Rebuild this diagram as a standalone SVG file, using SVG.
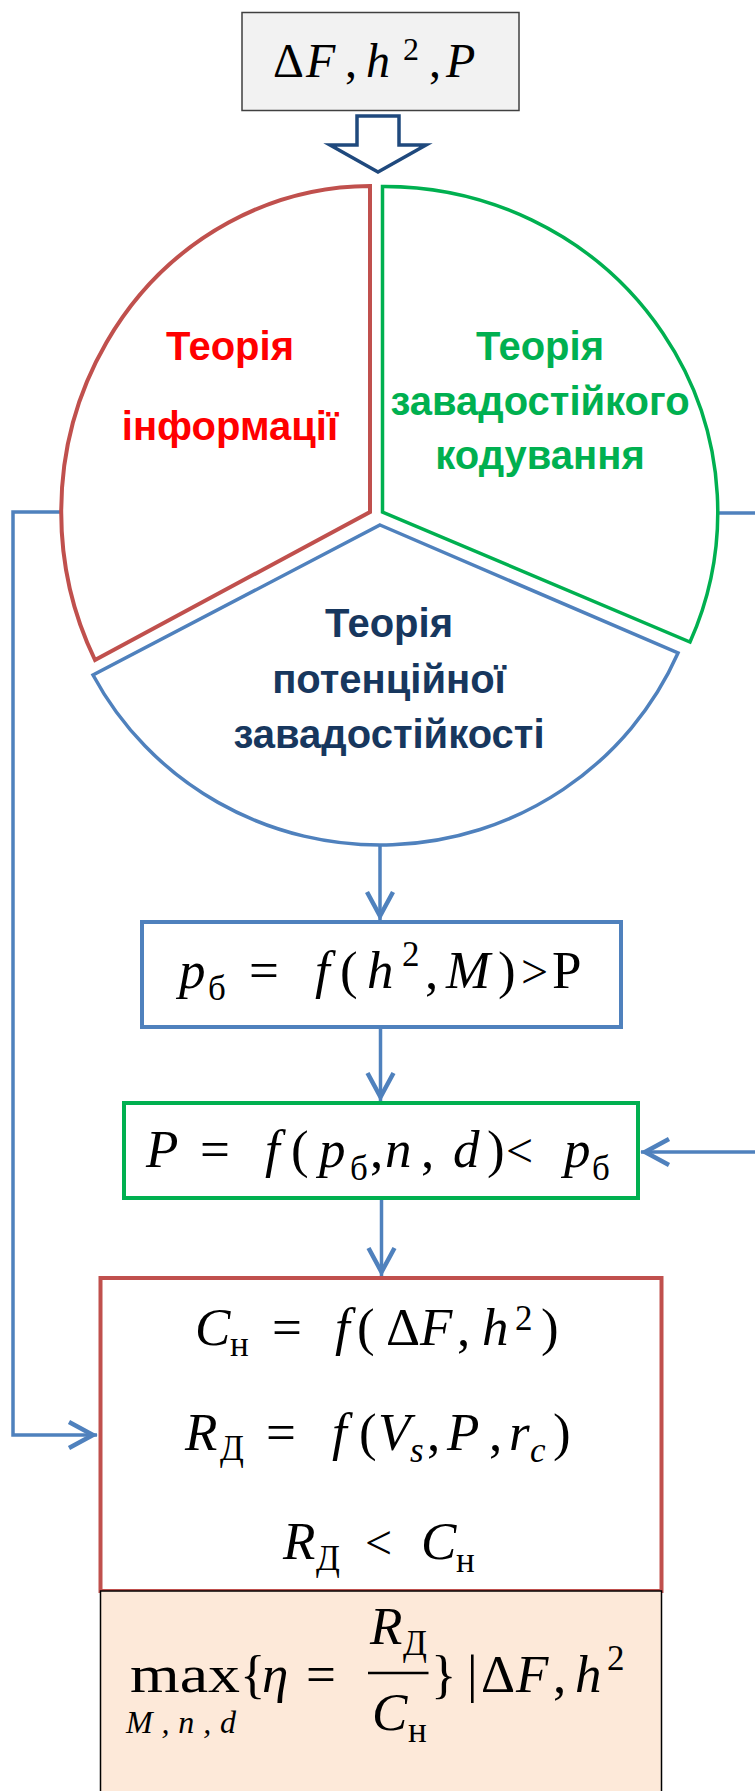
<svg xmlns="http://www.w3.org/2000/svg" width="755" height="1791" viewBox="0 0 755 1791">
<style>
.m{font-family:"Liberation Serif","DejaVu Serif",serif;font-style:italic;font-size:53px;fill:#000}
.u{font-style:normal}
.s{font-size:35px}
.r{font-size:48px}
.t{font-family:"Liberation Sans",Arial,sans-serif;font-weight:bold;font-size:40px;text-anchor:middle}
.con{fill:none;stroke:#4f81bd;stroke-width:3.5}
</style>
<defs>
<marker id="ah" markerUnits="userSpaceOnUse" markerWidth="32" markerHeight="32" viewBox="-30 -16 32 32" refX="0" refY="0" orient="auto">
<path d="M-28,-13 L-4,0 L-28,13" fill="none" stroke="#4f81bd" stroke-width="4.5"/>
</marker>
</defs>
<rect width="755" height="1791" fill="#fff"/>

<g id="connectors">
<path class="con" d="M60,512 H13 V1435 H97" marker-end="url(#ah)"/>
<path class="con" d="M716,513 H760"/>
<path class="con" d="M760,1152 H641" marker-end="url(#ah)"/>
<path class="con" d="M380,845 V920" marker-end="url(#ah)"/>
<path class="con" d="M380.5,1027 V1101" marker-end="url(#ah)"/>
<path class="con" d="M381.5,1198 V1276" marker-end="url(#ah)"/>
</g>

<g id="input">
<rect x="242" y="12.5" width="277" height="98" fill="#f2f2f2" stroke="#404040" stroke-width="1.5"/>
<text class="m" style="font-size:48px"><tspan class="u" x="273" y="77">Δ</tspan><tspan x="306" y="77">F</tspan><tspan class="u" x="345" y="77">,</tspan><tspan x="366" y="77">h</tspan><tspan class="u" x="403" y="60" style="font-size:32px">2</tspan><tspan class="u" x="429" y="77">,</tspan><tspan x="446" y="77">P</tspan></text>
</g>

<g id="block-arrow">
<path d="M357,116 H399 V145 H426 L378,172 L330,145 H357 Z" fill="#fff" stroke="#1f497d" stroke-width="3.5"/>
</g>

<g id="info-theory">
<path d="M370,512 L370,186 A310,326 0 0 0 95,660 Z" fill="#fff" stroke="#c0504d" stroke-width="4"/>
<text class="t" fill="#ff0000"><tspan x="230" y="360">Теорія</tspan><tspan x="230" y="440">інформації</tspan></text>
</g>

<g id="coding-theory">
<path d="M382.5,512 L382.5,186.5 A333.5,325.5 0 0 1 690,642 Z" fill="#fff" stroke="#00b050" stroke-width="3.5"/>
<text class="t" fill="#00b050"><tspan x="540" y="360">Теорія</tspan><tspan x="540" y="415">завадостійкого</tspan><tspan x="540" y="469">кодування</tspan></text>
</g>

<g id="noise-theory">
<path d="M380,525 L678,653 A325,320 0 0 1 93,675 Z" fill="#fff" stroke="#4f81bd" stroke-width="3.5"/>
<text class="t" fill="#17375e"><tspan x="389" y="637">Теорія</tspan><tspan x="389" y="693">потенційної</tspan><tspan x="389" y="748">завадостійкості</tspan></text>
</g>

<g id="box-pb">
<rect x="142" y="922" width="479" height="105" fill="#fff" stroke="#4f81bd" stroke-width="4"/>
<text class="m"><tspan x="179" y="988">p</tspan><tspan class="u s" x="208" y="1000">б</tspan><tspan class="u" x="249" y="988">=</tspan><tspan x="315" y="988">f</tspan><tspan class="u" x="340" y="988">(</tspan><tspan x="367" y="988">h</tspan><tspan class="u s" x="402" y="966">2</tspan><tspan class="u" x="425" y="988">,</tspan><tspan x="446" y="988">M</tspan><tspan class="u" x="498" y="988">)</tspan><tspan class="u r" x="521" y="988">&gt;</tspan><tspan class="u" x="552" y="988">P</tspan></text>
</g>

<g id="box-P">
<rect x="124" y="1103" width="514" height="95" fill="#fff" stroke="#00b050" stroke-width="4"/>
<text class="m"><tspan x="146" y="1167">P</tspan><tspan class="u" x="200" y="1167">=</tspan><tspan x="265" y="1167">f</tspan><tspan class="u" x="291" y="1167">(</tspan><tspan x="319" y="1167">p</tspan><tspan class="u s" x="350" y="1180">б</tspan><tspan class="u" x="370" y="1167">,</tspan><tspan x="385" y="1167">n</tspan><tspan class="u" x="421" y="1167">,</tspan><tspan x="453" y="1167">d</tspan><tspan class="u" x="487" y="1167">)</tspan><tspan class="u r" x="506" y="1167">&lt;</tspan><tspan x="564" y="1167">p</tspan><tspan class="u s" x="592" y="1180">б</tspan></text>
</g>

<g id="box-capacity">
<rect x="100.5" y="1278" width="561" height="313" fill="#fff" stroke="#c0504d" stroke-width="4"/>
<text class="m"><tspan x="195" y="1345">C</tspan><tspan class="u s" x="230" y="1356">н</tspan><tspan class="u" x="272" y="1345">=</tspan><tspan x="335" y="1345">f</tspan><tspan class="u" x="357" y="1345">(</tspan><tspan class="u" x="386" y="1345">Δ</tspan><tspan x="420" y="1345">F</tspan><tspan class="u" x="457" y="1345">,</tspan><tspan x="482" y="1345">h</tspan><tspan class="u s" x="515" y="1330">2</tspan><tspan class="u" x="541" y="1345">)</tspan></text>
<text class="m"><tspan x="185" y="1450">R</tspan><tspan class="u s" x="220" y="1460">Д</tspan><tspan class="u" x="266" y="1450">=</tspan><tspan x="332" y="1450">f</tspan><tspan class="u" x="359" y="1450">(</tspan><tspan x="378" y="1450">V</tspan><tspan class="s" x="410" y="1462">s</tspan><tspan class="u" x="427" y="1450">,</tspan><tspan x="447" y="1450">P</tspan><tspan class="u" x="489" y="1450">,</tspan><tspan x="509" y="1450">r</tspan><tspan class="s" x="530" y="1462">c</tspan><tspan class="u" x="553" y="1450">)</tspan></text>
<text class="m"><tspan x="283" y="1559">R</tspan><tspan class="u s" x="316" y="1570">Д</tspan><tspan class="u r" x="365" y="1559">&lt;</tspan><tspan x="421" y="1559">C</tspan><tspan class="u s" x="456" y="1572">н</tspan></text>
</g>

<g id="box-efficiency">
<rect x="100.5" y="1591" width="561" height="220" fill="#fde9d9" stroke="#000" stroke-width="1.5"/>
<text class="m u" x="130" y="1692" textLength="110" lengthAdjust="spacingAndGlyphs">max</text>
<text class="m" style="font-size:32px" x="126" y="1733" textLength="110" lengthAdjust="spacing">M,n,d</text>
<text class="m"><tspan class="u" x="240" y="1692">{</tspan><tspan x="262" y="1692">η</tspan><tspan class="u" x="306" y="1692">=</tspan></text>
<text class="m"><tspan x="370" y="1644">R</tspan><tspan class="u s" x="403" y="1655">Д</tspan></text>
<line x1="368" y1="1673" x2="428.5" y2="1673" stroke="#000" stroke-width="2.5"/>
<text class="m"><tspan x="372" y="1730">C</tspan><tspan class="u s" x="408" y="1742">н</tspan></text>
<text class="m"><tspan class="u" x="431" y="1692">}</tspan><tspan class="u" x="467" y="1692">|</tspan><tspan class="u" x="481" y="1692">Δ</tspan><tspan x="516" y="1692">F</tspan><tspan class="u" x="553" y="1692">,</tspan><tspan x="575" y="1692">h</tspan><tspan class="u s" x="607" y="1670">2</tspan></text>
</g>
</svg>
